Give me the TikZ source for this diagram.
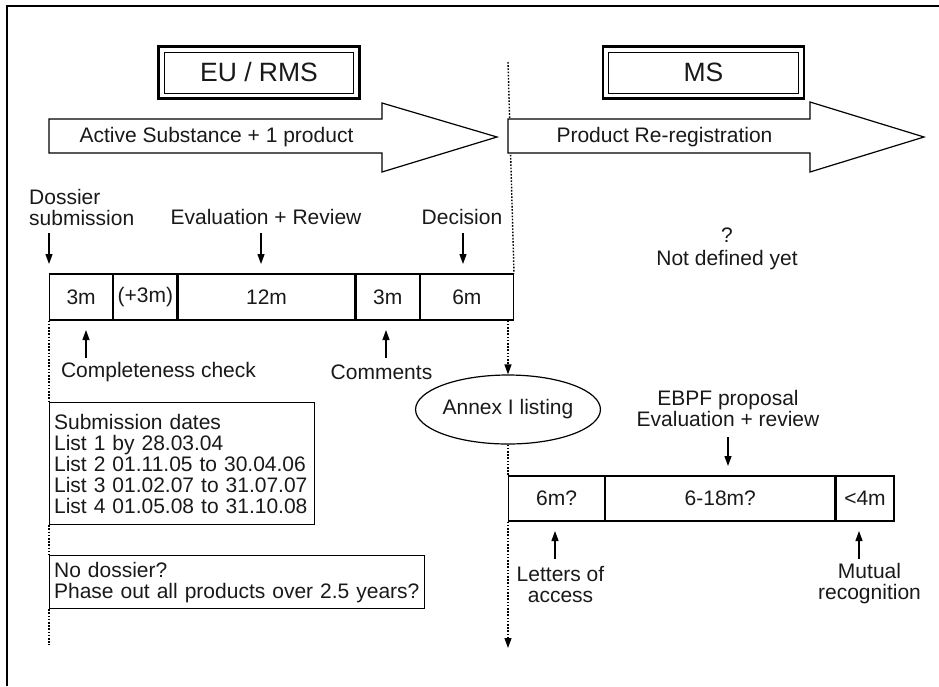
\documentclass[tikz,border=0pt]{standalone}
\usepackage{fontspec}
\setmainfont{Liberation Sans}
\usetikzlibrary{arrows.meta,shapes.geometric}
\begin{document}
\begin{tikzpicture}[x=1pt,y=-1pt,
  every node/.style={font=\fontsize{21}{21}\selectfont, text=black!90},
  lbl/.style={inner sep=0pt},
  cell/.style={draw, line width=1.2pt, inner sep=0pt, minimum height=46pt, anchor=west},
  titlebox/.style={draw, line width=1pt, minimum width=189pt, minimum height=41pt, inner sep=0pt, font=\fontsize{26.5}{26.5}\selectfont},
  txtbox/.style={draw, line width=1.2pt, align=left, anchor=north west, inner xsep=4.5pt, inner ysep=0pt},
  tip/.style={-{Triangle[length=10pt,width=7pt]}, line width=1.2pt},
  dotln/.style={line width=1.4pt, dash pattern=on 1.6pt off 1.6pt},
  bigarrow/.style={draw, line width=1.2pt, fill=white, line join=miter}]
\useasboundingbox (0,0) rectangle (939,686);
% frame
\draw[line width=2pt] (7,686) -- (7,6) -- (939,6);

% title boxes
\node[titlebox] (eu) at (259,72.5) {EU / RMS};
\draw[line width=2.8pt] ([xshift=-5.5pt,yshift=5pt]eu.north west) rectangle ([xshift=5.5pt,yshift=-5pt]eu.south east);
\node[titlebox, minimum width=190pt] (ms) at (703.5,72.5) {MS};
\draw[line width=2.8pt] ([xshift=-5pt,yshift=5pt]ms.north west) rectangle ([xshift=5pt,yshift=-5pt]ms.south east);

% timeline 1
\node[cell, minimum width=63pt] (c1) at (49,297) {3m};
\node[cell, minimum width=63pt] (c2) at (c1.east) {(+3m)};
\node[cell, minimum width=177pt] (c3) at (c2.east) {12m};
\node[cell, minimum width=63pt] (c4) at (c3.east) {3m};
\node[cell, minimum width=93pt] (c5) at (c4.east) {6m};

% central dotted line (drawn before arrows)
\coordinate (top) at (508,62);
\draw[dotln] (top) -- (c5.north east);

% big arrows
\draw[bigarrow] (49,119) -- (382,119) -- (382,103) -- (497,137) -- (382,172) -- (382,153) -- (49,153) -- cycle;
\node[lbl] (as) at (216.5,137) {Active Substance + 1 product};
\draw[bigarrow] (508,119) -- (810,119) -- (810,102) -- (924,137) -- (810,172) -- (810,153) -- (508,153) -- cycle;
\node[lbl] (pr) at (664.5,137) {Product Re-registration};

% labels above timeline 1
\node[lbl, align=left, anchor=west] (dos) at (29,207) {Dossier\\submission};
\node[lbl] (eval) at (266,217) {Evaluation + Review};
\node[lbl] (dec) at (462,217) {Decision};
\coordinate (a1) at (49,233);
\coordinate (a2) at (261,233);
\coordinate (a3) at (463,233);
\draw[tip] (a1) -- (a1 |- 0,264);
\draw[tip] (a2) -- (a2 |- 0,264);
\draw[tip] (a3) -- (a3 |- 0,264);

% labels below timeline 1
\node[lbl] (comp) at (158.5,372) {Completeness check};
\node[lbl] (comm) at (381.5,372) {Comments};
\coordinate (u1) at (86,358);
\coordinate (u2) at (386,358);
\draw[tip] (u1) -- (u1 |- 0,330);
\draw[tip] (u2) -- (u2 |- 0,330);

% text boxes left
\node[txtbox, text width=256pt, minimum height=122pt] (sub) at (49,402)
  {Submission dates\\List 1 by 28.03.04\\List 2 01.11.05 to 30.04.06\\List 3 01.02.07 to 31.07.07\\List 4 01.05.08 to 31.10.08};
\node[txtbox, text width=366pt, minimum height=53pt] (nod) at (49,555)
  {No dossier?\\Phase out all products over 2.5 years?};
\coordinate (lend) at (49,645);
\draw[dotln] (c1.south west) -- (sub.north west);
\draw[dotln] (sub.south west) -- (nod.north west);
\draw[dotln] (nod.south west) -- (lend);

% right side
\node[lbl] (q) at (727,235) {?};
\node[lbl] (nd) at (727,260) {Not defined yet};

\node[draw, ellipse, line width=1.2pt, minimum width=155pt, minimum height=69pt, inner sep=0pt] (annex) at (508,409.5) {Annex I listing};
\draw[tip, dash pattern=on 1.6pt off 1.6pt] (c5.south east -| annex.north) -- (annex.north);

% timeline 2
\node[cell, minimum width=96pt, minimum height=45pt] (d1) at (508,498.5) {6m?};
\node[cell, minimum width=229pt, minimum height=45pt] (d2) at (d1.east) {6-18m?};
\node[cell, minimum width=58pt, minimum height=45pt] (d3) at (d2.east) {<4m};
\draw[dotln] (annex.south) -- (d1.north west);
\coordinate (rend) at (508,648);
\draw[tip, dash pattern=on 1.6pt off 1.6pt] (d1.south west) -- (rend);

\node[lbl, align=center] (ebpf) at (728,408.5) {EBPF proposal\\Evaluation + review};
\coordinate (e1) at (728,437);
\draw[tip] (e1) -- (e1 |- 0,466);

\node[lbl, align=center] (let) at (560.5,584) {Letters of\\access};
\node[lbl, align=center] (mut) at (869.5,584) {Mutual\\recognition};
\coordinate (v1) at (555,559);
\coordinate (v2) at (859,559);
\draw[tip] (v1) -- (v1 |- 0,531);
\draw[tip] (v2) -- (v2 |- 0,531);
\end{tikzpicture}
\end{document}
